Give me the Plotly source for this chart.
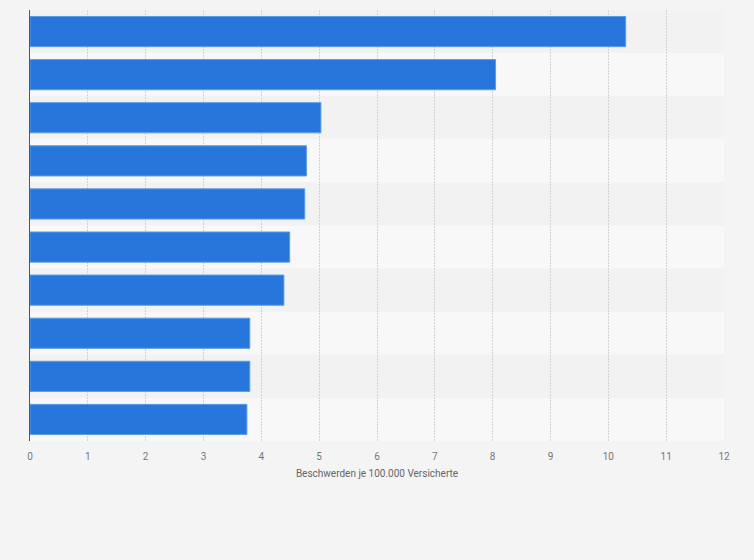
import plotly.graph_objects as go

# Kategorien sind im Original nicht beschriftet
categories = ["Rang 1", "Rang 2", "Rang 3", "Rang 4", "Rang 5",
              "Rang 6", "Rang 7", "Rang 8", "Rang 9", "Rang 10"]
values = [10.3, 8.05, 5.03, 4.78, 4.75, 4.49, 4.39, 3.8, 3.8, 3.75]
x_ticks = list(range(0, 13))
x_title = "Beschwerden je 100.000 Versicherte"

fig = go.Figure()
fig.add_trace(go.Bar(
    x=values,
    y=categories,
    orientation="h",
    marker=dict(color="#2776db", line=dict(color="#5b9be9", width=1)),
    width=0.7,
    hoverinfo="x",
))

# alternating row bands
for i, cat in enumerate(categories):
    fig.add_shape(
        type="rect", xref="paper", yref="y",
        x0=0, x1=1, y0=i - 0.5, y1=i + 0.5,
        fillcolor="#f2f2f2" if i % 2 == 0 else "#f8f8f8",
        line=dict(width=0), layer="below",
    )

fig.update_layout(
    width=754, height=560,
    margin=dict(l=30, r=30, t=10, b=119),
    paper_bgcolor="#f4f4f4",
    plot_bgcolor="#f4f4f4",
    font=dict(family="Roboto, Arial, sans-serif", size=11, color="#666666"),
    showlegend=False,
    bargap=0.3,
)
fig.update_xaxes(
    range=[0, 12],
    tickvals=x_ticks,
    showgrid=True, gridcolor="#d2d2d2", griddash="2px,1px", gridwidth=1,
    zeroline=False,
    ticks="", ticklen=0,
    ticklabelstandoff=8,
    tickfont=dict(size=10, color="#777777"),
    title=dict(text=x_title, font=dict(size=10, color="#666666"), standoff=8),
)
fig.update_yaxes(
    autorange="reversed",
    showticklabels=False,
    showgrid=False,
    showline=True, linecolor="#555555", linewidth=1,
    ticks="",
)

fig.write_html("out.html", config={"displayModeBar": False},
               post_script="document.body.style.margin='0';")
